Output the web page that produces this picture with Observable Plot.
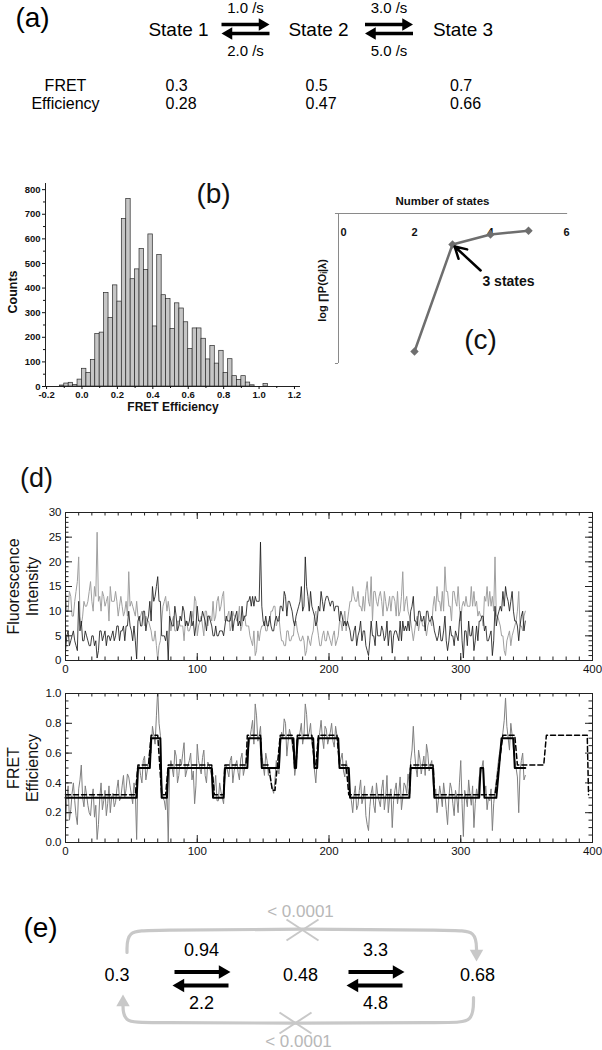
<!DOCTYPE html>
<html><head><meta charset="utf-8">
<script src="https://cdn.jsdelivr.net/npm/d3@7"></script>
<script src="https://cdn.jsdelivr.net/npm/@observablehq/plot@0.6"></script>
<style>
html,body{margin:0;padding:0;background:#fff;}
#fig{position:relative;width:602px;height:1050px;overflow:hidden;background:#fff;}
#fig > div{position:absolute;}
#fig svg{max-width:none !important;overflow:visible;display:block;}
</style></head><body><div id="fig"></div>
<script>
// ---------------- DATA ----------------
// (a) simulated three-state model
const statesA = ["State 1", "State 2", "State 3"];
const ratesFwdA = [1.0, 3.0];
const ratesBwdA = [2.0, 5.0];
const fretTrue = [0.3, 0.5, 0.7];
const fretEst = [0.28, 0.47, 0.66];

// (b) FRET efficiency histogram (bin start, counts)
const binWidth = 0.025;
const histBinStart = [-0.125,-0.1,-0.075,-0.05,-0.025,0,0.025,0.05,0.075,0.1,0.125,0.15,0.175,0.2,0.225,0.25,0.275,0.3,0.325,0.35,0.375,0.4,0.425,0.45,0.475,0.5,0.525,0.55,0.575,0.6,0.625,0.65,0.675,0.7,0.725,0.75,0.775,0.8,0.825,0.85,0.875,0.9,0.925,0.95,0.975,1.0,1.025];
const histCounts = [4,12,15,6,28,72,55,108,213,219,380,279,411,345,681,762,436,476,559,474,618,244,534,371,355,234,338,317,261,152,236,236,194,110,165,93,145,55,111,42,27,42,16,5,0,0,10];
const histXTicks = [-0.2,0,0.2,0.4,0.6,0.8,1.0,1.2];
const histYTicks = [0,100,200,300,400,500,600,700,800];

// (c) model selection
const nStates = [2, 3, 4, 5];
const logLik = [-5152, -4724, -4684, -4669];
const cTicks = [0, 2, 4, 6];

// (d) traces, one sample per time unit (0..349)
const frameStep = 1;
const donor = [
14,10,10,14,13,9,9,12,14,16,21,9,7,9,12,11,11,12,14,16,
12,10,15,13,26,12,13,10,14,13,11,12,13,8,15,12,12,12,14,12,
9,11,13,11,9,10,12,9,18,11,12,11,10,9,12,9,8,9,10,9,
7,9,8,8,7,6,4,4,6,3,0,3,4,8,11,12,13,10,12,10,
6,8,9,6,6,8,8,7,7,7,4,8,8,6,6,7,10,8,13,12,
5,7,8,9,7,5,10,10,7,9,9,8,12,8,9,12,13,10,11,13,
14,8,8,9,10,6,7,10,9,9,8,8,11,6,7,9,9,7,7,7,
5,4,3,6,1,2,6,4,6,7,7,8,6,6,8,8,10,10,11,11,
7,8,9,6,4,4,3,3,6,6,4,4,5,5,8,8,6,5,4,4,
5,4,1,2,5,4,3,5,6,9,10,7,5,3,3,5,6,4,4,6,
5,4,3,5,6,3,4,5,8,8,6,8,10,6,8,10,12,12,15,13,
12,12,14,11,11,10,13,10,14,16,12,11,17,8,14,14,12,11,13,14,
12,9,14,12,10,11,13,10,13,13,12,9,14,9,10,13,18,10,12,13,
10,9,8,6,4,6,8,9,6,8,9,7,7,7,5,7,8,8,7,11,
13,10,15,12,12,10,14,10,19,14,14,11,11,8,14,14,12,11,15,11,
8,11,12,11,13,11,11,11,15,11,14,11,12,9,10,9,9,7,13,12,
15,11,14,11,13,10,21,9,9,8,7,5,5,2,1,4,5,6,3,5,
6,7,8,10,14,7,7,6,9,10];
const acceptor = [
2,5,6,3,4,5,6,4,3,2,12,6,8,4,4,6,5,4,3,3,
5,5,3,4,0.5,2,6,6,4,5,6,3,5,5,4,5,6,4,5,7,
7,4,6,6,7,4,7,7,10,7,6,4,7,4,0.3,8,9,7,7,10,
10,6,8,9,12,8,15,12,13,15,17,12,12,5,5,5,4,6,0,9,
8,7,7,11,9,6,7,9,8,11,10,7,8,7,8,10,7,8,5,7,
11,8,8,8,10,9,8,6,9,9,8,7,5,5,7,5,5,6,6,6,
5,7,9,8,8,8,10,6,8,9,10,7,8,7,11,8,9,9,12,12,
13,11,13,11,13,12,12,12,24,11,8,7,9,7,7,9,7,6,6,8,
9,8,8,11,11,10,14,13,9,12,12,11,10,8,7,9,10,11,12,15,
10,11,21,15,13,10,14,11,10,9,7,8,11,10,14,12,10,12,13,13,
12,11,12,12,10,11,11,11,8,10,9,7,8,7,8,7,6,4,4,6,
7,3,5,6,8,4,6,6,3,2,1,4,8,5,5,3,8,5,5,5,
7,6,4,5,8,3,6,6,1.5,5,6,6,5,4,8,4,8,6,7,6,
8,6,10,11,13,8,8,7,10,10,8,8,9,6,10,10,8,8,9,8,
6,5,4,5,7,4,4,6,9,4,2,4,7,5,5,3,6,5,4,8,
10,4,0.5,6,6,3,8,5,5,7,2,4,7,4,8,8,9,9,6,7,
4,4,5,6,1,4,11,7,9,10,11,10,14,11,15,13,12,10,12,14,
10,8,8,7,4,7,9,10,6,8];
const fret = [
0.10,0.30,0.38,0.15,0.22,0.33,0.40,0.28,0.18,0.12,0.36,0.42,0.52,0.30,0.24,0.38,0.32,0.25,0.20,0.18,
0.30,0.36,0.17,0.25,0.02,0.12,0.30,0.40,0.22,0.28,0.35,0.18,0.26,0.38,0.20,0.30,0.33,0.24,0.27,0.36,
0.42,0.28,0.30,0.38,0.45,0.30,0.36,0.46,0.44,0.38,0.32,0.26,0.40,0.34,0.02,0.50,0.52,0.45,0.40,0.55,
0.58,0.42,0.48,0.54,0.62,0.60,0.78,0.72,0.66,0.85,1.03,0.80,0.72,0.40,0.30,0.28,0.22,0.35,0.00,0.48,
0.55,0.50,0.44,0.62,0.58,0.40,0.45,0.56,0.52,0.60,0.67,0.44,0.48,0.52,0.55,0.60,0.42,0.48,0.26,0.38,
0.66,0.55,0.50,0.46,0.57,0.62,0.45,0.40,0.54,0.52,0.48,0.44,0.30,0.36,0.45,0.28,0.28,0.40,0.34,0.30,
0.26,0.44,0.52,0.48,0.44,0.55,0.58,0.40,0.48,0.52,0.55,0.47,0.42,0.56,0.60,0.45,0.50,0.55,0.63,0.64,
0.70,0.76,0.82,0.66,0.93,0.85,0.68,0.72,0.78,0.60,0.52,0.45,0.60,0.55,0.45,0.50,0.40,0.36,0.33,0.42,
0.55,0.50,0.46,0.62,0.74,0.70,0.83,0.80,0.58,0.68,0.76,0.72,0.66,0.60,0.45,0.52,0.62,0.70,0.74,0.80,
0.66,0.72,0.93,0.86,0.70,0.74,0.80,0.66,0.62,0.48,0.40,0.55,0.68,0.74,0.82,0.70,0.63,0.78,0.76,0.66,
0.70,0.74,0.80,0.68,0.64,0.78,0.72,0.66,0.52,0.56,0.60,0.48,0.44,0.55,0.50,0.40,0.34,0.28,0.20,0.32,
0.38,0.22,0.25,0.35,0.42,0.26,0.30,0.38,0.18,0.12,0.08,0.24,0.33,0.38,0.25,0.20,0.40,0.32,0.28,0.24,
0.36,0.42,0.22,0.30,0.45,0.20,0.30,0.36,0.10,0.28,0.35,0.40,0.26,0.34,0.44,0.22,0.30,0.40,0.38,0.33,
0.46,0.38,0.55,0.62,0.78,0.60,0.50,0.44,0.62,0.56,0.46,0.52,0.58,0.45,0.66,0.60,0.48,0.52,0.55,0.40,
0.30,0.36,0.20,0.28,0.38,0.32,0.24,0.40,0.32,0.22,0.12,0.30,0.40,0.36,0.26,0.18,0.35,0.30,0.20,0.40,
0.55,0.26,0.04,0.35,0.30,0.24,0.42,0.32,0.25,0.38,0.10,0.26,0.36,0.30,0.44,0.46,0.50,0.55,0.32,0.38,
0.22,0.30,0.28,0.36,0.08,0.26,0.35,0.42,0.50,0.58,0.62,0.68,0.74,0.82,0.97,0.78,0.70,0.62,0.80,0.72,
0.62,0.55,0.50,0.44,0.20,0.48,0.55,0.60,0.42,0.45];
// most probable state path (solid) and alternative model path (dashed)
const pathStart = [0,55,65,73,78,112,121,139,149,163,174,176,189,192,208,216,262,280,315,318,331,341];
const pathEnd   = [54,64,72,77,111,120,138,148,162,173,175,188,191,207,215,261,279,314,317,327,340,349];
const pathLevel = [0.3,0.5,0.7,0.3,0.5,0.3,0.5,0.7,0.5,0.7,0.5,0.7,0.5,0.7,0.5,0.3,0.5,0.3,0.5,0.3,0.7,0.5];
const dashStart = [0,55,65,73,78,113,121,138,149,157,163,174,176,189,192,208,215,262,280,332,343,365,397];
const dashEnd   = [53,63,70,76,111,120,137,148,154,159,172,175,187,190,206,213,261,279,326,341,363,396,397];
const dashLevel = [0.32,0.52,0.72,0.32,0.52,0.32,0.52,0.72,0.52,0.35,0.72,0.52,0.72,0.52,0.72,0.52,0.32,0.52,0.32,0.72,0.52,0.72,0.32];
const timeTicks = [0,100,200,300,400];
const intensityTicks = [0,5,10,15,20,25,30];
const efficiencyTicks = [0,0.2,0.4,0.6,0.8,1.0];

// (e) recovered model
const statesE = [0.3, 0.48, 0.68];
const ratesFwdE = [0.94, 3.3];
const ratesBwdE = [2.2, 4.8];
const skipRates = ["< 0.0001", "< 0.0001"];

// ---------------- LAYOUT ----------------
const FONT = "'Liberation Sans', Arial, Helvetica, sans-serif";
const fig = document.getElementById("fig");
function place(node, left, top) {
  const d = document.createElement("div");
  d.style.left = left + "px"; d.style.top = top + "px";
  d.appendChild(node); fig.appendChild(d);
}
function headR(r) { return 2 * r * Math.sqrt(Math.PI / (3 * Math.sqrt(3))); } // triangle tip distance
const pxScale = {domain: [0, 602], range: [0, 602], axis: null};

// ---- (a) ----
{
  const col = [178, 318, 462.5], mid = [245, 388.5];
  const half = 24, r = 4.6, tip = headR(r);
  const yUp = 24, yDn = 33;
  const p = Plot.plot({
    width: 602, height: 125, margin: 0,
    x: pxScale, y: {domain: [0, 125], range: [0, 125], axis: null},
    style: {fontFamily: FONT, color: "#000", background: "transparent"},
    marks: [
      Plot.text(["(a)"], {frameAnchor: "top-left", dx: 32, dy: 18, textAnchor: "middle", lineAnchor: "middle", fontSize: 28}),
      Plot.text(statesA, {x: (d, i) => col[i], y: () => 29, text: d => d, fontSize: 19}),
      Plot.text(ratesFwdA, {x: (d, i) => mid[i], y: () => 8, text: d => d.toFixed(1) + " /s", fontSize: 15}),
      Plot.text(ratesBwdA, {x: (d, i) => mid[i], y: () => 51, text: d => d.toFixed(1) + " /s", fontSize: 15}),
      Plot.link(ratesFwdA, {x1: (d, i) => mid[i] - half, x2: (d, i) => mid[i] + half - tip, y1: () => yUp, y2: () => yUp, strokeWidth: 3.5, stroke: "#000"}),
      Plot.dot(ratesFwdA, {x: (d, i) => mid[i] + half, y: () => yUp, dx: -tip, symbol: "triangle", rotate: 90, r, fill: "#000", stroke: "none"}),
      Plot.link(ratesBwdA, {x1: (d, i) => mid[i] - half + tip, x2: (d, i) => mid[i] + half, y1: () => yDn, y2: () => yDn, strokeWidth: 3.5, stroke: "#000"}),
      Plot.dot(ratesBwdA, {x: (d, i) => mid[i] - half, y: () => yDn, dx: tip, symbol: "triangle", rotate: -90, r, fill: "#000", stroke: "none"}),
      Plot.text(["FRET\nEfficiency"], {frameAnchor: "top-left", dx: 65, dy: 94, textAnchor: "middle", lineAnchor: "middle", fontSize: 16, lineHeight: 1.13}),
      Plot.text(fretTrue, {x: (d, i) => col[i], y: () => 85, dx: -13, textAnchor: "start", text: d => String(d), fontSize: 16}),
      Plot.text(fretEst, {x: (d, i) => col[i], y: () => 103, dx: -13, textAnchor: "start", text: d => String(d), fontSize: 16})
    ]
  });
  place(p, 0, 0);
}

// ---- (b) ----
{
  const fmt = d => d.toFixed(1);
  const p = Plot.plot({
    width: 305, height: 250, marginLeft: 45, marginRight: 5, marginTop: 13, marginBottom: 34,
    x: {domain: [-0.206, 1.234]}, y: {domain: [0, 825]},
    style: {fontFamily: FONT, fontSize: "9.5px", fontWeight: "bold", color: "#111", background: "transparent"},
    marks: [
      Plot.rectY(histCounts, {x1: (d, i) => histBinStart[i], x2: (d, i) => histBinStart[i] + binWidth, y: d => d, fill: "#c6c6c6", stroke: "#2a2a2a", strokeWidth: 0.7}),
      Plot.ruleY([0], {stroke: "#222"}),
      Plot.ruleX([-0.206], {stroke: "#222"}),
      Plot.axisX(histXTicks, {tickSize: 3, tickPadding: 2, tickFormat: fmt, label: null}),
      Plot.axisX(histXTicks.slice(0, -1).map(d => d + 0.1), {tickSize: 2, tickFormat: () => "", label: null}),
      Plot.axisY(histYTicks, {tickSize: 3, tickPadding: 2, label: null}),
      Plot.axisY(histYTicks.slice(0, -1).map(d => d + 50), {tickSize: 2, tickFormat: () => "", label: null}),
      Plot.text(["(b)"], {frameAnchor: "top-left", dx: 168, dy: 11, textAnchor: "middle", lineAnchor: "middle", fontSize: 28, fontWeight: "normal"}),
      Plot.text(["Counts"], {frameAnchor: "left", dx: -33, dy: 7, rotate: -90, textAnchor: "middle", lineAnchor: "middle", fontSize: 12.5}),
      Plot.text(["FRET Efficiency"], {frameAnchor: "bottom", dy: 21, textAnchor: "middle", lineAnchor: "middle", fontSize: 12})
    ]
  });
  place(p, 0, 170);
}

// ---- (c) ----
{
  const yTop = -4600;
  const p = Plot.plot({
    width: 302, height: 220, marginLeft: 38, marginRight: 36, marginTop: 43, marginBottom: 27,
    x: {domain: [0, 6], axis: null}, y: {domain: [-5200, -4600], axis: null},
    style: {fontFamily: FONT, fontSize: "11px", fontWeight: "bold", color: "#111", background: "transparent"},
    marks: [
      Plot.ruleY([yTop], {x1: -0.08, x2: 6.03, stroke: "#8a8a8a"}),
      Plot.ruleX([0], {stroke: "#8a8a8a"}),
      Plot.ruleY([-5200], {x1: -0.08, x2: 0, stroke: "#8a8a8a"}),
      Plot.text(cTicks.filter(d => d !== 0), {x: d => d, y: () => yTop, dy: 19, text: d => String(d)}),
      Plot.text(cTicks.filter(d => d === 0), {x: d => d, y: () => yTop, dy: 19, dx: 5, text: d => String(d)}),
      Plot.line(nStates, {x: d => d, y: (d, i) => logLik[i], stroke: "#6e6e6e", strokeWidth: 2.5}),
      Plot.dot(nStates, {x: d => d, y: (d, i) => logLik[i], symbol: "diamond2", r: 3.8, fill: "#6e6e6e", stroke: "none"}),
      Plot.arrow([nStates[1]], {x1: d => d + 0.74, y1: () => logLik[1] - 104, x2: d => d, y2: () => logLik[1], insetEnd: 3, strokeWidth: 2.5, headLength: 10, stroke: "#000"}),
      Plot.text(["3 states"], {x: () => nStates[1], y: () => logLik[1], dx: 56, dy: 37, fontSize: 14}),
      Plot.text(["Number of states"], {frameAnchor: "top", dx: -10, dy: -12.5, textAnchor: "middle", lineAnchor: "middle", fontSize: 11.5}),
      Plot.text(["log \u220FP(O\u1D62|\u03BB)"], {frameAnchor: "left", dx: -16, dy: 2, rotate: -90, textAnchor: "middle", lineAnchor: "middle", fontSize: 11}),
      Plot.text(["(c)"], {frameAnchor: "top-left", dx: 142, dy: 127, textAnchor: "middle", lineAnchor: "middle", fontSize: 28, fontWeight: "normal"})
    ]
  });
  place(p, 300, 170);
}

// ---- (d) ----
const time = d3.range(0, donor.length * frameStep, frameStep);
function stepPoints(starts, ends, levels) {
  return starts.flatMap((s, i) => [{t: s, v: levels[i]}, {t: ends[i], v: levels[i]}]);
}
function boxTicks(fw, fh, xs, ys, len) {
  return [
    Plot.tickX(xs, {x: d => d, insetTop: fh - len, stroke: "#222"}),
    Plot.tickX(xs, {x: d => d, insetBottom: fh - len, stroke: "#222"}),
    Plot.tickY(ys, {y: d => d, insetRight: fw - len, stroke: "#222"}),
    Plot.tickY(ys, {y: d => d, insetLeft: fw - len, stroke: "#222"})
  ];
}
const dStyle = {fontFamily: FONT, fontSize: "11.5px", color: "#111", background: "transparent"};
{
  const W = 602, H = 220, mL = 65, mR = 10, mT = 52, mB = 20;
  const fw = W - mL - mR, fh = H - mT - mB;
  const p = Plot.plot({
    width: W, height: H, marginLeft: mL, marginRight: mR, marginTop: mT, marginBottom: mB,
    x: {domain: [0, 400]}, y: {domain: [0, 30]},
    style: dStyle,
    marks: [
      Plot.line(donor, {x: (d, i) => time[i], y: d => d, stroke: "#a0a0a0", strokeWidth: 1}),
      Plot.line(acceptor, {x: (d, i) => time[i], y: d => d, stroke: "#1c1c1c", strokeWidth: 0.85}),
      Plot.frame({stroke: "#222"}),
      ...boxTicks(fw, fh, d3.range(0, 401, 10), d3.range(0, 31, 1), 3.5),
      ...boxTicks(fw, fh, timeTicks, intensityTicks, 7),
      Plot.axisX(timeTicks, {tickSize: 0, tickPadding: 4, label: null}),
      Plot.axisY(intensityTicks, {tickSize: 0, tickPadding: 4, label: null}),
      Plot.text(["Fluorescence\nIntensity"], {frameAnchor: "left", dx: -43.5, rotate: -90, textAnchor: "middle", lineAnchor: "middle", fontSize: 16, lineHeight: 1.2}),
      Plot.text(["(d)"], {frameAnchor: "top-left", dx: -29, dy: -34, textAnchor: "middle", lineAnchor: "middle", fontSize: 27})
    ]
  });
  place(p, 0, 460);
}
{
  const W = 602, H = 180, mL = 65, mR = 10, mT = 13, mB = 18;
  const fw = W - mL - mR, fh = H - mT - mB;
  const p = Plot.plot({
    width: W, height: H, marginLeft: mL, marginRight: mR, marginTop: mT, marginBottom: mB,
    x: {domain: [0, 400]}, y: {domain: [0, 1]},
    style: dStyle,
    marks: [
      Plot.line(fret, {x: (d, i) => time[i], y: d => d, stroke: "#808080", strokeWidth: 1, clip: true}),
      Plot.line(stepPoints(pathStart, pathEnd, pathLevel), {x: "t", y: "v", stroke: "#000", strokeWidth: 2}),
      Plot.line(stepPoints(dashStart, dashEnd, dashLevel), {x: "t", y: "v", stroke: "#000", strokeWidth: 1.5, strokeDasharray: "5,3"}),
      Plot.frame({stroke: "#222"}),
      ...boxTicks(fw, fh, d3.range(0, 401, 10), d3.range(0, 1.001, 0.05), 3.5),
      ...boxTicks(fw, fh, timeTicks, efficiencyTicks, 7),
      Plot.axisX(timeTicks, {tickSize: 0, tickPadding: 4, label: null}),
      Plot.axisY(efficiencyTicks, {tickSize: 0, tickPadding: 4, tickFormat: d => d.toFixed(1), label: null}),
      Plot.text(["FRET\nEfficiency"], {frameAnchor: "left", dx: -43.5, rotate: -90, textAnchor: "middle", lineAnchor: "middle", fontSize: 16, lineHeight: 1.2})
    ]
  });
  place(p, 0, 680);
}

// ---- (e) ----
{
  const top = 895;
  const col = [116.5, 300, 477], mid = [201, 375];
  const half = 28, r = 5, tip = headR(r);
  const yUp = 971.5, yDn = 985;
  const gray = "#c8c8c8";
  const L = col[0] + 10, R = col[2] - 1, Lb = col[0] + 6, Rb = col[2] - 4;
  const arcTop = [[L, 952], [L, 930], [L + 24, 930], [col[1], 928], [R - 24, 930], [R, 930], [R, 952]];
  const arcBot = [[Rb, 997], [Rb, 1022], [Rb - 24, 1022], [col[1], 1023], [Lb + 24, 1022], [Lb, 1022], [Lb, 1002]];
  const cross = (cx, cy) => [
    {x1: cx - 16, y1: cy - 10, x2: cx + 16, y2: cy + 11},
    {x1: cx - 16, y1: cy + 11, x2: cx + 16, y2: cy - 10}
  ];
  const p = Plot.plot({
    width: 602, height: 155, margin: 0,
    x: pxScale, y: {domain: [top, top + 155], range: [0, 155], axis: null},
    style: {fontFamily: FONT, color: "#000", background: "transparent"},
    marks: [
      Plot.line(arcTop, {x: d => d[0], y: d => d[1], curve: "basis", stroke: gray, strokeWidth: 3.2}),
      Plot.dot([R], {x: d => d, y: () => 961, dy: -tip, symbol: "triangle", rotate: 180, r: 5, fill: gray, stroke: "none"}),
      Plot.line(arcBot, {x: d => d[0], y: d => d[1], curve: "basis", stroke: gray, strokeWidth: 3.2}),
      Plot.dot([Lb], {x: d => d, y: () => 994, dy: tip, symbol: "triangle", rotate: 0, r: 5, fill: gray, stroke: "none"}),
      Plot.link(cross(col[1] + 2, 929), {x1: "x1", y1: "y1", x2: "x2", y2: "y2", stroke: gray, strokeWidth: 2}),
      Plot.link(cross(col[1] - 5, 1022), {x1: "x1", y1: "y1", x2: "x2", y2: "y2", stroke: gray, strokeWidth: 2}),
      Plot.text(skipRates.slice(0, 1), {x: () => col[1], y: () => 911, text: d => d, fill: "#b8b8b8", fontSize: 17}),
      Plot.text(skipRates.slice(1, 2), {x: () => col[1] - 2, y: () => 1041, text: d => d, fill: "#b8b8b8", fontSize: 17}),
      Plot.text(["(e)"], {frameAnchor: "top-left", dx: 40, dy: 33, textAnchor: "middle", lineAnchor: "middle", fontSize: 28}),
      Plot.text(statesE, {x: (d, i) => col[i], y: () => 975, text: d => String(d), fontSize: 18}),
      Plot.text(ratesFwdE, {x: (d, i) => mid[i], y: () => 950, text: d => String(d), fontSize: 18}),
      Plot.text(ratesBwdE, {x: (d, i) => mid[i], y: () => 1003, text: d => String(d), fontSize: 18}),
      Plot.link(ratesFwdE, {x1: (d, i) => mid[i] - half + 1, x2: (d, i) => mid[i] + half + 1 - tip, y1: () => yUp, y2: () => yUp, strokeWidth: 4, stroke: "#000"}),
      Plot.dot(ratesFwdE, {x: (d, i) => mid[i] + half + 1, y: () => yUp, dx: -tip, symbol: "triangle", rotate: 90, r, fill: "#000", stroke: "none"}),
      Plot.link(ratesBwdE, {x1: (d, i) => mid[i] - half - 1 + tip, x2: (d, i) => mid[i] + half - 1, y1: () => yDn, y2: () => yDn, strokeWidth: 4, stroke: "#000"}),
      Plot.dot(ratesBwdE, {x: (d, i) => mid[i] - half - 1, y: () => yDn, dx: tip, symbol: "triangle", rotate: -90, r, fill: "#000", stroke: "none"})
    ]
  });
  place(p, 0, top);
}
</script>
</body></html>
